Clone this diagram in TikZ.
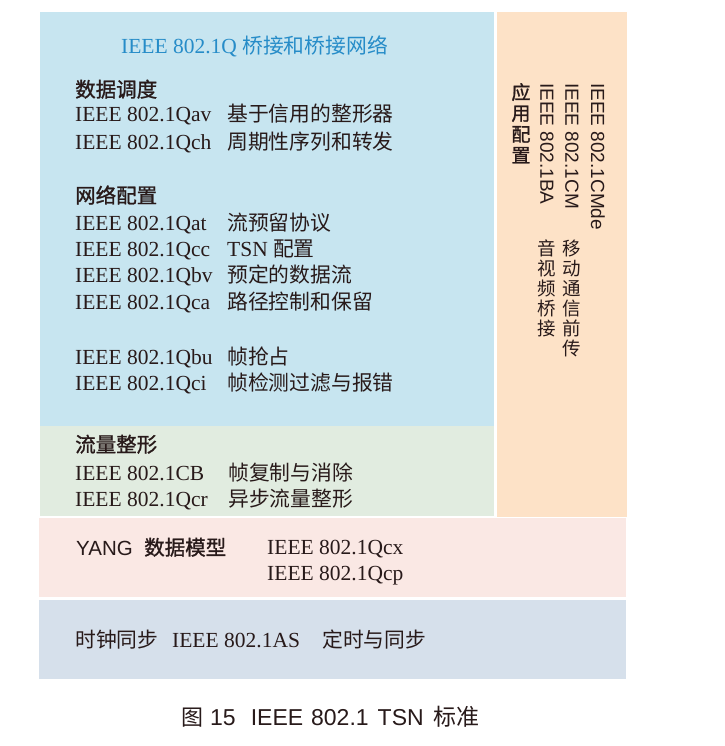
\documentclass[tikz,border=0pt]{standalone}
\usepackage{fontspec}
\setmainfont{Liberation Serif}
\newfontfamily\cjk{Noto Sans CJK SC}
\newfontfamily\cjkb{Noto Sans CJK SC}[FakeBold=1.2]
\newfontfamily\sansf{Liberation Sans}
\definecolor{bluebox}{RGB}{199,229,240}
\definecolor{greenbox}{RGB}{225,236,224}
\definecolor{orangebox}{RGB}{253,226,199}
\definecolor{pinkbox}{RGB}{250,232,228}
\definecolor{slatebox}{RGB}{214,224,235}
\definecolor{ink}{RGB}{40,26,26}
\definecolor{titleblue}{RGB}{38,140,200}
\tikzset{
  lat/.style={anchor=base west, inner sep=0pt, text=ink, font=\rmfamily\fontsize{21.5}{24}\selectfont},
  zh/.style={anchor=base west, inner sep=0pt, text=ink, font=\cjk\fontsize{20.8}{24}\selectfont},
  hd/.style={anchor=base west, inner sep=0pt, text=ink, font=\cjkb\fontsize{20.5}{24}\selectfont},
  vlat/.style={rotate=-90, anchor=west, inner sep=0pt, text=ink, font=\sansf\fontsize{19}{22}\selectfont},
  vzh/.style={anchor=north, inner sep=0pt, text=ink, align=center, font=\cjk\fontsize{18.5}{20}\selectfont},
  vhd/.style={anchor=north, inner sep=0pt, text=ink, align=center, font=\cjkb\fontsize{19}{21}\selectfont},
}
\begin{document}
\begin{tikzpicture}[x=1pt,y=-1pt]
% canvas
\fill[white] (0,0) rectangle (724,746);
% boxes
\fill[bluebox] (40,12) rectangle (494,426);
\fill[greenbox] (40,426) rectangle (494,516);
\fill[orangebox] (497,12) rectangle (627,517);
\fill[pinkbox] (39,518) rectangle (626,597);
\fill[slatebox] (39,600) rectangle (626,679);
% title
\node[anchor=base, inner sep=0pt, text=titleblue, font=\rmfamily\fontsize{21.5}{24}\selectfont] (title) at (254.5,54) {IEEE 802.1Q {\cjk\fontsize{20.8}{24}\selectfont 桥接和桥接网络}};
% data scheduling
\node[hd] (h1) at (75,97) {数据调度};
\node[lat] (qav) at (75,122) {IEEE 802.1Qav};
\node[zh] (qavz) at (227,122) {基于信用的整形器};
\node[lat] (qch) at (75,150) {IEEE 802.1Qch};
\node[zh] (qchz) at (227,150) {周期性序列和转发};
% network configuration
\node[hd] (h2) at (75,203) {网络配置};
\node[lat] (qat) at (75,230) {IEEE 802.1Qat};
\node[zh] (qatz) at (227,230) {流预留协议};
\node[lat] (qcc) at (75,256) {IEEE 802.1Qcc};
\node[lat] (qccz) at (227,256) {TSN {\cjk\fontsize{20.8}{24}\selectfont 配置}};
\node[lat] (qbv) at (75,282) {IEEE 802.1Qbv};
\node[zh] (qbvz) at (227,282) {预定的数据流};
\node[lat] (qca) at (75,309) {IEEE 802.1Qca};
\node[zh] (qcaz) at (227,309) {路径控制和保留};
\node[lat] (qbu) at (75,364) {IEEE 802.1Qbu};
\node[zh] (qbuz) at (227,364) {帧抢占};
\node[lat] (qci) at (75,390) {IEEE 802.1Qci};
\node[zh] (qciz) at (227,390) {帧检测过滤与报错};
% traffic shaping
\node[hd] (h3) at (75,452) {流量整形};
\node[lat] (cb) at (75,480) {IEEE 802.1CB};
\node[zh] (cbz) at (228,480) {帧复制与消除};
\node[lat] (qcr) at (75,506) {IEEE 802.1Qcr};
\node[zh] (qcrz) at (228,506) {异步流量整形};
% YANG
\node[anchor=base west, inner sep=0pt, text=ink, font=\sansf\fontsize{20.5}{24}\selectfont] (yang) at (76,555) {YANG};
\node[hd] (yangz) at (144,555) {数据模型};
\node[lat] (qcx) at (267,554) {IEEE 802.1Qcx};
\node[lat] (qcp) at (267,580) {IEEE 802.1Qcp};
% time sync
\node[zh] (h4) at (75,647) {时钟同步};
\node[lat] (as) at (172,647) {IEEE 802.1AS};
\node[zh] (asz) at (322,647) {定时与同步};
% application configuration (vertical)
\node[vhd] (h5) at (521,83) {应\\用\\配\\置};
\node[vlat] (ba) at (547,83) {IEEE 802.1BA};
\node[vzh] (baz) at (547,240) {音\\视\\频\\桥\\接};
\node[vlat] (cm) at (572,83) {IEEE 802.1CM};
\node[vzh] (cmz) at (572,240) {移\\动\\通\\信\\前\\传};
\node[vlat] (cmde) at (598,83) {IEEE 802.1CMde};
% caption
\node[anchor=base west, inner sep=0pt, text=ink, font=\sansf\fontsize{23}{26}\selectfont] (cap) at (181,725) {{\cjk\fontsize{22}{26}\selectfont 图}\hspace{7pt}15\hspace{15pt}IEEE\hspace{8pt}802.1\hspace{9pt}TSN\hspace{10pt}{\cjk\fontsize{23}{26}\selectfont 标准}};
\end{tikzpicture}
\end{document}
